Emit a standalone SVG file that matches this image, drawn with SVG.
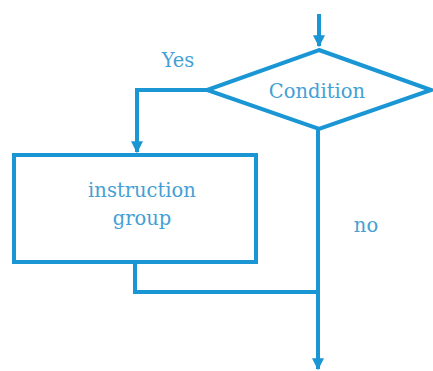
<svg xmlns="http://www.w3.org/2000/svg" width="433" height="371" viewBox="0 0 433 371">
<defs>
<style>
.ln{fill:none;stroke:#1a96d4;stroke-width:4;}
.sh{fill:#fff;stroke:#1a96d4;stroke-width:4;}
.tx{font-family:'DejaVu Serif','Liberation Serif',serif;font-size:19.5px;fill:#44a0d4;text-anchor:middle;}
</style>
<marker id="ah" viewBox="0 0 10 10" refX="9" refY="5" markerWidth="3" markerHeight="3" orient="auto" markerUnits="strokeWidth">
<path d="M0,0 L10,5 L0,10 z" fill="#1a96d4"/>
</marker>
</defs>
<rect width="433" height="371" fill="#fff"/>
<g id="connectors">
<path class="ln" d="M319,14 V46" marker-end="url(#ah)"/>
<path class="ln" d="M207,90 H137 V152" marker-end="url(#ah)"/>
<path class="ln" d="M135,263 V292 H318"/>
<path class="ln" d="M318,129 V369" marker-end="url(#ah)"/>
</g>
<g id="condition">
<polygon class="sh" points="319,50 431,90 319,129 207,90"/>
<text class="tx" x="317" y="98">Condition</text>
</g>
<g id="instruction">
<rect class="sh" x="14" y="155" width="242" height="107"/>
<text class="tx" x="142" y="197">instruction</text>
<text class="tx" x="142" y="225">group</text>
</g>
<g id="labels">
<text class="tx" x="178" y="67">Yes</text>
<text class="tx" x="366" y="232">no</text>
</g>
</svg>
